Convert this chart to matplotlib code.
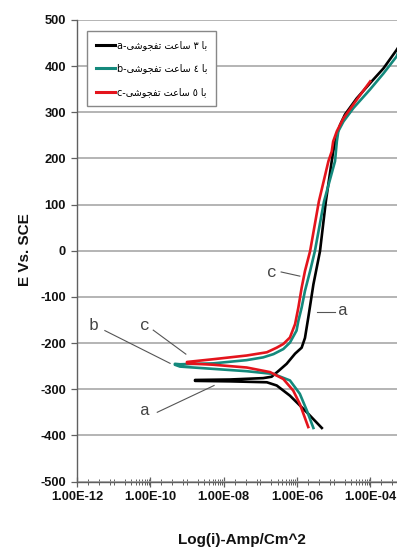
import numpy as np
import matplotlib
matplotlib.use("Agg")
import matplotlib.pyplot as plt
from matplotlib.ticker import FixedLocator, FuncFormatter, LogLocator

plt.rcParams["axes.unicode_minus"] = False

# ---------------- data (log10 of current density, potential mV) ----------------
# sample a : 3 h sintering (black)
a_cath_logi = [-5.32, -5.73, -6.19, -6.55, -6.82, -7.83, -8.78]
a_cath_E    = [-384, -350, -314, -292, -285, -283, -282]
a_anod_logi = [-8.78, -7.83, -6.92, -6.69, -6.51, -6.28, -6.05, -5.87, -5.78, -5.69,
               -5.55, -5.37, -5.21, -5.05, -5.01, -4.91, -4.82, -4.69, -4.37, -3.96,
               -3.64, -3.28, -3.20]
a_anod_E    = [-280, -279, -276, -273, -261, -245, -223, -210, -189, -145,
               -73, -1, 107, 194, 215, 251, 273, 295, 330, 367,
               395, 435, 445]

# sample b : 4 h sintering (teal)
b_cath_logi = [-5.55, -5.73, -5.92, -6.19, -6.64, -7.37, -8.28, -9.19, -9.33]
b_cath_E    = [-384, -346, -310, -281, -267, -261, -256, -251, -247]
b_anod_logi = [-9.33, -9.19, -8.28, -7.37, -6.92, -6.64, -6.37, -6.19, -6.01, -5.96,
               -5.87, -5.78, -5.64, -5.51, -5.26, -4.96, -4.91, -4.87, -4.73, -4.46,
               -4.01, -3.64, -3.28, -3.20]
b_anod_E    = [-245, -246, -244, -237, -231, -224, -213, -199, -173, -152,
               -123, -87, -44, -1, 107, 194, 237, 259, 280, 309,
               349, 384, 421, 437]

# sample c : 5 h sintering (red)
c_cath_logi = [-5.69, -5.92, -6.10, -6.37, -6.73, -7.37, -8.28, -9.00]
c_cath_E    = [-382, -332, -303, -278, -263, -253, -247, -244]
c_anod_logi = [-9.00, -8.28, -7.37, -6.82, -6.55, -6.37, -6.19, -6.05, -5.96, -5.87,
               -5.78, -5.64, -5.40, -5.14, -5.05, -5.01, -4.91, -4.73, -4.37, -4.00]
c_anod_E    = [-241, -235, -227, -220, -210, -202, -188, -159, -123, -80,
               -44, -1, 107, 194, 215, 237, 259, 287, 327, 367]

# legend labels (Persian, written in Arabic presentation forms in visual order)
TAFJUSHI = "\uFEF0\uFEB7\uFEEE\uFEA0\uFED4\uFE97"   # تفجوشی
SAAT = "\uFE96\uFECB\uFE8E\uFEB3"                   # ساعت
BA = "\uFE8E\uFE91"                                 # با
series_letters = ["a", "b", "c"]
series_hours = ["\u0663", "\u0664", "\u0665"]        # ٣ ٤ ٥
series_labels = [f"{l}-{TAFJUSHI} {SAAT} {h} {BA}" for l, h in zip(series_letters, series_hours)]
series_colors = ["#000000", "#14897c", "#e4141c"]

x_ticks = [1e-12, 1e-10, 1e-8, 1e-6, 1e-4]
y_ticks = list(range(-500, 501, 100))

# ---------------- figure ----------------
W, H = 397, 555
fig = plt.figure(figsize=(W / 100, H / 100), dpi=100)
ax_left, ax_right = 77 / W, 1.0
ax_top, ax_bot = 1 - 20 / H, 1 - 481.5 / H
ax = fig.add_axes([ax_left, ax_bot, ax_right - ax_left, ax_top - ax_bot])

def curve(cl, ce, al, ae):
    li = list(cl) + list(al)
    ee = list(ce) + list(ae)
    return 10.0 ** np.array(li), np.array(ee)

lines = []
for (cl, ce, al, ae), col, lab in zip(
        [(a_cath_logi, a_cath_E, a_anod_logi, a_anod_E),
         (b_cath_logi, b_cath_E, b_anod_logi, b_anod_E),
         (c_cath_logi, c_cath_E, c_anod_logi, c_anod_E)],
        series_colors, series_labels):
    x, y = curve(cl, ce, al, ae)
    ln, = ax.plot(x, y, color=col, lw=1.9, label=lab, zorder=3, solid_joinstyle="round")
    lines.append(ln)

ax.set_xscale("log")
ax.set_xlim(1e-12, 10 ** (-12 + 320 / 36.65))
ax.set_ylim(-500, 500)

ax.yaxis.set_major_locator(FixedLocator(y_ticks))
ax.xaxis.set_major_locator(FixedLocator(x_ticks))
ax.xaxis.set_major_formatter(FuncFormatter(lambda v, p: "%.2E" % v))
ax.xaxis.set_minor_locator(LogLocator(base=100, subs=[2, 4, 8, 10, 20, 30, 40, 50, 60, 70, 80, 90], numticks=20))
ax.xaxis.set_minor_formatter(FuncFormatter(lambda v, p: ""))

ax.grid(axis="y", color="#a8a8a8", lw=1.2, zorder=0)
ax.set_axisbelow(True)
for s in ["top", "right"]:
    ax.spines[s].set_visible(False)
for s in ["left", "bottom"]:
    ax.spines[s].set_color("#606060")
    ax.spines[s].set_linewidth(1.0)

ax.tick_params(axis="x", which="major", direction="inout", length=7, width=0.9, color="#606060", pad=3)
ax.tick_params(axis="x", which="minor", direction="inout", length=4, width=0.7, color="#606060")
ax.tick_params(axis="y", which="major", direction="out", length=4, width=0.9, color="#606060", pad=4)
for t in ax.get_xticklabels() + ax.get_yticklabels():
    t.set_fontfamily("Liberation Sans")
    t.set_fontweight("bold")
    t.set_fontsize(9.3)
    t.set_color("#111111")

fig.text(241.7 / W, 1 - 540 / H, "Log(i)-Amp/Cm^2", ha="center", va="center",
         fontfamily="Liberation Sans", fontweight="bold", fontsize=11, color="#111111")
fig.text(25 / W, 1 - 250 / H, "E Vs. SCE", ha="center", va="center", rotation=90,
         fontfamily="Liberation Sans", fontweight="bold", fontsize=11, color="#111111")

# annotations (letter, text position, leader start, leader end) in (log10 i, E)
ann_font = dict(family="Liberation Mono", size=12, color="#444444")
annotations = [
    ("c", (-6.69, -47), (-6.43, -46), (-5.92, -55)),
    ("a", (-4.73, -130), (-4.96, -132), (-5.46, -132)),
    ("b", (-11.56, -163), (-11.24, -173), (-9.46, -244)),
    ("c", (-10.15, -163), (-9.92, -172), (-9.03, -224)),
    ("a", (-10.15, -346), (-9.81, -350), (-8.26, -292)),
]
for letter, tp, p0, p1 in annotations:
    ax.text(10 ** tp[0], tp[1], letter, ha="center", va="center", **ann_font)
    ax.plot([10 ** p0[0], 10 ** p1[0]], [p0[1], p1[1]], color="#555555", lw=0.8, zorder=2)

leg = ax.legend(handles=lines, loc="upper left",
                bbox_to_anchor=(86.7 / W, 1 - 31 / H), bbox_transform=fig.transFigure,
                borderaxespad=0, prop=dict(family="DejaVu Sans", size=6.9),
                frameon=True, fancybox=False, edgecolor="#888888", framealpha=1,
                handlelength=2.0, handletextpad=0.2, labelspacing=1.4, borderpad=0.95)
leg.get_frame().set_linewidth(1.0)
for h in leg.legend_handles:
    h.set_linewidth(2.2)

fig.savefig("out.png", dpi=100)
